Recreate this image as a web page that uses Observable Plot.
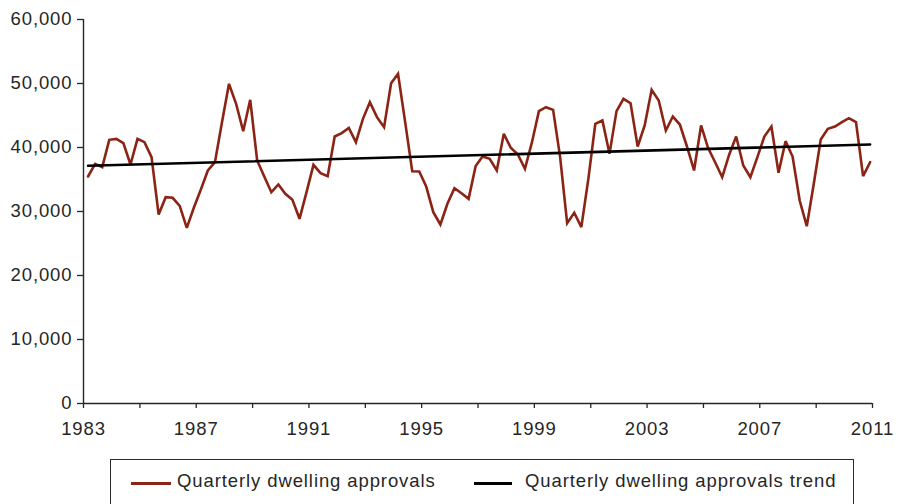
<!DOCTYPE html>
<html>
<head>
<meta charset="utf-8">
<script src="https://cdn.jsdelivr.net/npm/d3@7"></script>
<script src="https://cdn.jsdelivr.net/npm/@observablehq/plot@0.6"></script>
<style>
  html, body { margin: 0; padding: 0; background: #fff; overflow: hidden; }
  #wrap { position: relative; width: 898px; height: 504px; font-family: "Liberation Sans", Arial, sans-serif; color: #262626; }
  #chart { position: absolute; left: 0; top: 0; }
  #legend { position: absolute; left: 110px; top: 459px; width: 744px; height: 60px; border: 1.5px solid #2b2b2b; box-sizing: border-box; }
  .sw { position: absolute; height: 3px; top: 22px; }
  .lt { position: absolute; top: 10px; font-size: 18.5px; letter-spacing: 0.9px; line-height: 22px; white-space: nowrap; }
</style>
</head>
<body>
<div id="wrap">
  <div id="chart"></div>
  <div id="legend"></div>
</div>
<script>
// Quarterly dwelling approvals, Mar 1983 .. Dec 2010 (quarter-ending months)
const startYear = 1983;
const approvals = [
  35470, 37450, 36930, 41200,   // 1983
  41350, 40670, 37340, 41350,   // 1984
  40830, 38490, 29530, 32240,   // 1985
  32140, 30890, 27450, 30580,   // 1986
  33390, 36410, 37700, 43960,   // 1987
  49950, 46830, 42550, 47450,   // 1988
  37970, 35470, 33020, 34220,   // 1989
  32760, 31830, 28860, 33020,   // 1990
  37290, 35990, 35520, 41720,   // 1991
  42240, 43070, 40830, 44480,   // 1992
  47080, 44740, 43180, 50050,   // 1993
  51510, 44000, 36300, 36250,   // 1994
  33900, 29890, 27970, 31200,   // 1995
  33640, 32860, 31980, 37100,   // 1996
  38590, 38230, 36410, 42140,   // 1997
  39950, 38910, 36670, 40830,   // 1998
  45680, 46300, 45880, 38500,   // 1999
  28170, 29800, 27550, 35100,   // 2000
  43700, 44220, 39010, 45680,   // 2001
  47610, 46920, 40160, 43440,   // 2002
  49020, 47340, 42660, 44840,   // 2003
  43590, 40160, 36410, 43440,   // 2004
  39950, 37700, 35360, 38910,   // 2005
  41720, 37190, 35360, 38490,   // 2006
  41720, 43280, 36050, 40990,   // 2007
  38590, 31720, 27700, 34330,   // 2008
  41250, 42920, 43280, 43960,   // 2009
  44580, 43960, 35520, 37700    // 2010
];
// Trend line values at first and last quarter
const trendEnds = [37150, 40470];

const yTicks = [0, 10000, 20000, 30000, 40000, 50000, 60000];
const xTickYears = [1983,1985,1987,1989,1991,1993,1995,1997,1999,2001,2003,2005,2007,2009,2011];
const xLabelYears = [1983,1987,1991,1995,1999,2003,2007,2011];

const seriesNames = ["Quarterly dwelling approvals", "Quarterly dwelling approvals trend"];
const seriesColors = ["#8b2415", "#000000"];

// Build table
const quarterDate = i => new Date(Date.UTC(startYear + Math.floor(i / 4), (i % 4) * 3 + 2, 1));
const data = approvals.map((v, i) => ({date: quarterDate(i), value: v}));
const trend = [
  {date: data[0].date, value: trendEnds[0]},
  {date: data[data.length - 1].date, value: trendEnds[1]}
];

const x0 = new Date(Date.UTC(1983, 0, 1));
const x1 = new Date(Date.UTC(2011, 0, 1));
const axisColor = "#262626";

const chart = Plot.plot({
  width: 898,
  height: 445,
  marginTop: 19,
  marginBottom: 42,
  marginLeft: 83,
  marginRight: 26,
  style: {fontFamily: "'Liberation Sans', Arial, sans-serif", fontSize: "18.5px", color: axisColor, background: "#fff", overflow: "visible", letterSpacing: "0.9px"},
  x: {type: "utc", domain: [x0, x1]},
  y: {domain: [0, 60000]},
  marks: [
    Plot.axisY({ticks: yTicks, tickSize: 6, tickPadding: 5, tickFormat: d3.format(","), label: null, stroke: axisColor, strokeWidth: 1.3, fill: axisColor}),
    Plot.axisX({
      ticks: xTickYears.map(y => new Date(Date.UTC(y, 0, 1))),
      tickSize: 5, tickPadding: 13.5,
      tickFormat: d => xLabelYears.includes(d.getUTCFullYear()) ? String(d.getUTCFullYear()) : "",
      label: null, stroke: axisColor, strokeWidth: 1.3, fill: axisColor
    }),
    Plot.ruleX([x0], {stroke: axisColor, strokeWidth: 1.4}),
    Plot.ruleY([0], {stroke: axisColor, strokeWidth: 1.4}),
    Plot.line(data, {x: "date", y: "value", stroke: seriesColors[0], strokeWidth: 2.6, strokeLinejoin: "miter", strokeMiterlimit: 3}),
    Plot.line(trend, {x: "date", y: "value", stroke: seriesColors[1], strokeWidth: 2.6})
  ]
});
document.getElementById("chart").appendChild(chart);

// Legend (HTML, below the SVG)
const legend = document.getElementById("legend");
const layout = [{sw: 20, sww: 40, tx: 66}, {sw: 363, sww: 38, tx: 414}];
seriesNames.forEach((name, i) => {
  const s = document.createElement("div");
  s.className = "sw";
  s.style.left = layout[i].sw + "px";
  s.style.width = layout[i].sww + "px";
  s.style.background = seriesColors[i];
  legend.appendChild(s);
  const t = document.createElement("div");
  t.className = "lt";
  t.style.left = layout[i].tx + "px";
  t.textContent = name;
  legend.appendChild(t);
});
</script>
</body>
</html>
